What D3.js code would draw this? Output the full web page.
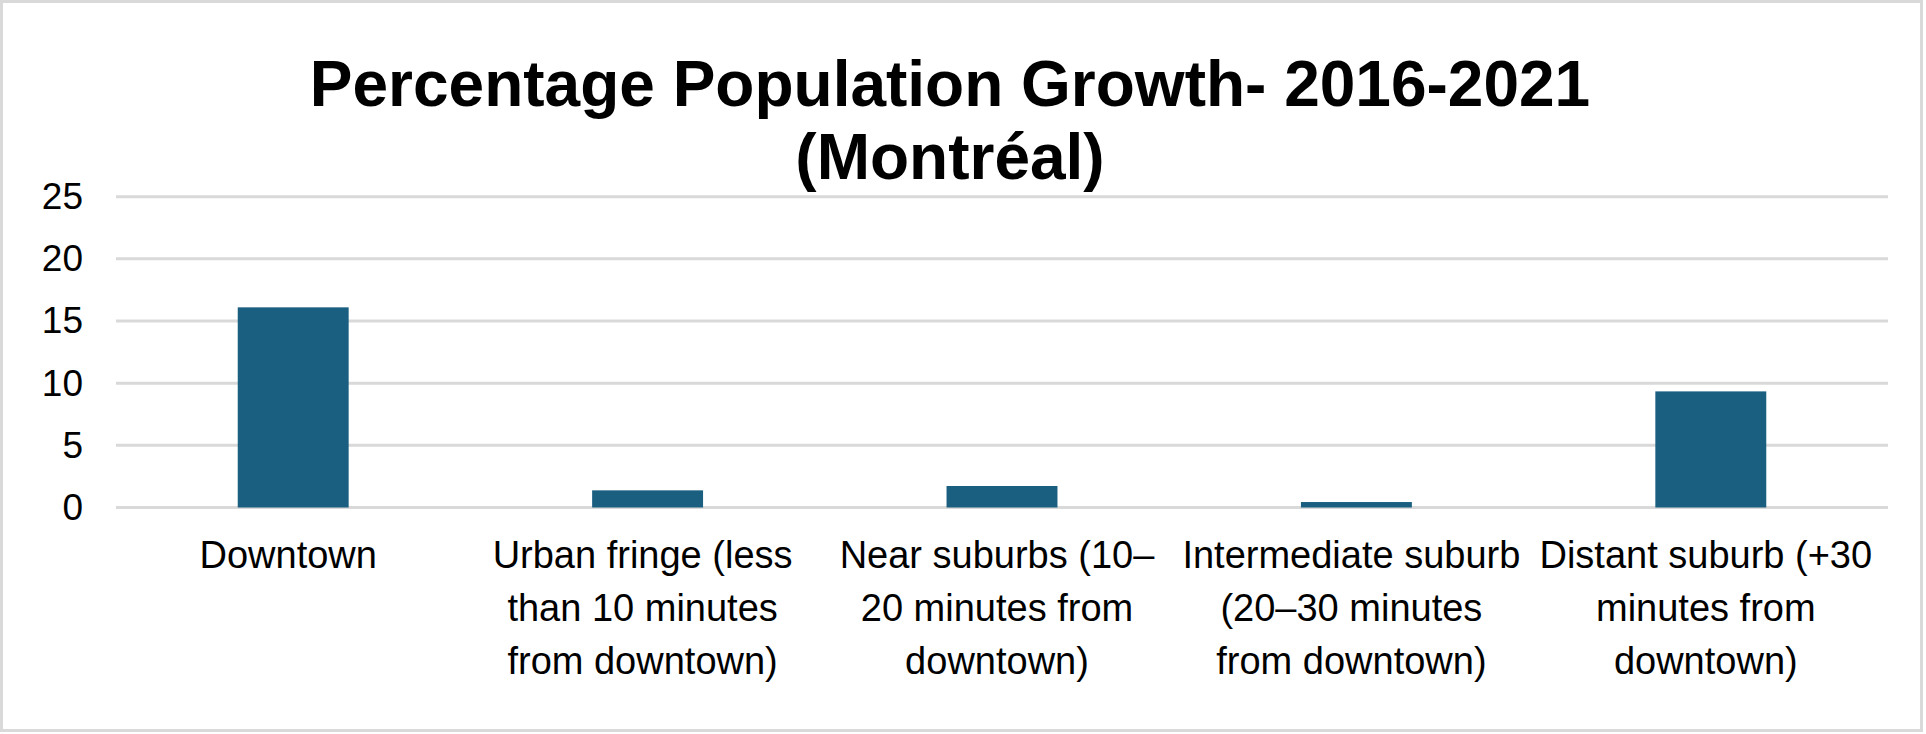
<!DOCTYPE html>
<html>
<head>
<meta charset="utf-8">
<script src="https://cdn.jsdelivr.net/npm/d3@7"></script>
<style>
  body { margin: 0; background: #fff; }
  text { font-family: "Liberation Sans", Arial, sans-serif; fill: #000; }
</style>
</head>
<body>
<div id="app"></div>
<script>
var categories = ['Downtown', 'Urban fringe', 'Near suburbs', 'Intermediate suburb', 'Distant suburb'];
var labelLines = [
    ['Downtown'],
    ['Urban fringe (less', 'than 10 minutes', 'from downtown)'],
    ['Near suburbs (10\u2013', '20 minutes from', 'downtown)'],
    ['Intermediate suburb', '(20\u201330 minutes', 'from downtown)'],
    ['Distant suburb (+30', 'minutes from', 'downtown)']
];
var growth = [16.1, 1.38, 1.73, 0.44, 9.34];
var yTicks = [0, 5, 10, 15, 20, 25];
var titleLines = ['Percentage Population Growth- 2016-2021', '(Montr\u00e9al)'];

var width = 1926,
    height = 734,
    plotLeft = 116,
    plotRight = 1888,
    plotTop = 196.7,
    plotBottom = 507.5;

var svg = d3
    .select('#app')
    .append('svg')
    .attr('width', width)
    .attr('height', height);

// chart border
svg.append('rect')
    .attr('x', 1.5)
    .attr('y', 1.5)
    .attr('width', width - 6)
    .attr('height', height - 5)
    .attr('fill', '#fff')
    .attr('stroke', '#d9d9d9')
    .attr('stroke-width', 3);

// title
svg.append('text')
    .attr('text-anchor', 'middle')
    .style('font-size', '64px')
    .style('font-weight', 'bold')
    .selectAll('tspan')
    .data(titleLines)
    .enter()
    .append('tspan')
    .attr('x', 950)
    .attr('y', function (d, i) { return 106 + i * 73; })
    .text(function (d) { return d; });

var xScale = d3.scaleBand()
    .domain(categories)
    .range([plotLeft, plotRight])
    .paddingInner(0.687)
    .paddingOuter(0.3435);

var yScale = d3.scaleLinear().domain([0, 25]).range([plotBottom, plotTop]);

// gridlines
svg.append('g')
    .selectAll('line')
    .data(yTicks)
    .enter()
    .append('line')
    .attr('x1', plotLeft)
    .attr('x2', plotRight)
    .attr('y1', function (d) { return yScale(d); })
    .attr('y2', function (d) { return yScale(d); })
    .attr('stroke', '#d9d9d9')
    .attr('stroke-width', 3);

// y axis labels
var yAxis = d3.axisLeft(yScale).tickValues(yTicks).tickSize(0).tickPadding(0);
var yg = svg.append('g')
    .attr('transform', 'translate(83, 0)')
    .call(yAxis);
yg.select('.domain').remove();
yg.selectAll('text')
    .style('font-size', '37px')
    .style('font-family', '"Liberation Sans", Arial, sans-serif')
    .attr('fill', '#000');

// bars
svg.append('g')
    .selectAll('rect')
    .data(growth)
    .enter()
    .append('rect')
    .attr('x', function (d, i) { return xScale(categories[i]); })
    .attr('y', function (d) { return yScale(d); })
    .attr('width', xScale.bandwidth())
    .attr('height', function (d) { return plotBottom - yScale(d); })
    .attr('fill', '#1a5f80');

// x labels
svg.append('g')
    .selectAll('text')
    .data(labelLines)
    .enter()
    .append('text')
    .attr('text-anchor', 'middle')
    .style('font-size', '38px')
    .each(function (lines, i) {
        var cx = xScale(categories[i]) + xScale.bandwidth() / 2 - 5;
        d3.select(this)
            .selectAll('tspan')
            .data(lines)
            .enter()
            .append('tspan')
            .attr('x', cx)
            .attr('y', function (d, j) { return 568 + j * 53; })
            .text(function (d) { return d; });
    });
</script>
</body>
</html>
